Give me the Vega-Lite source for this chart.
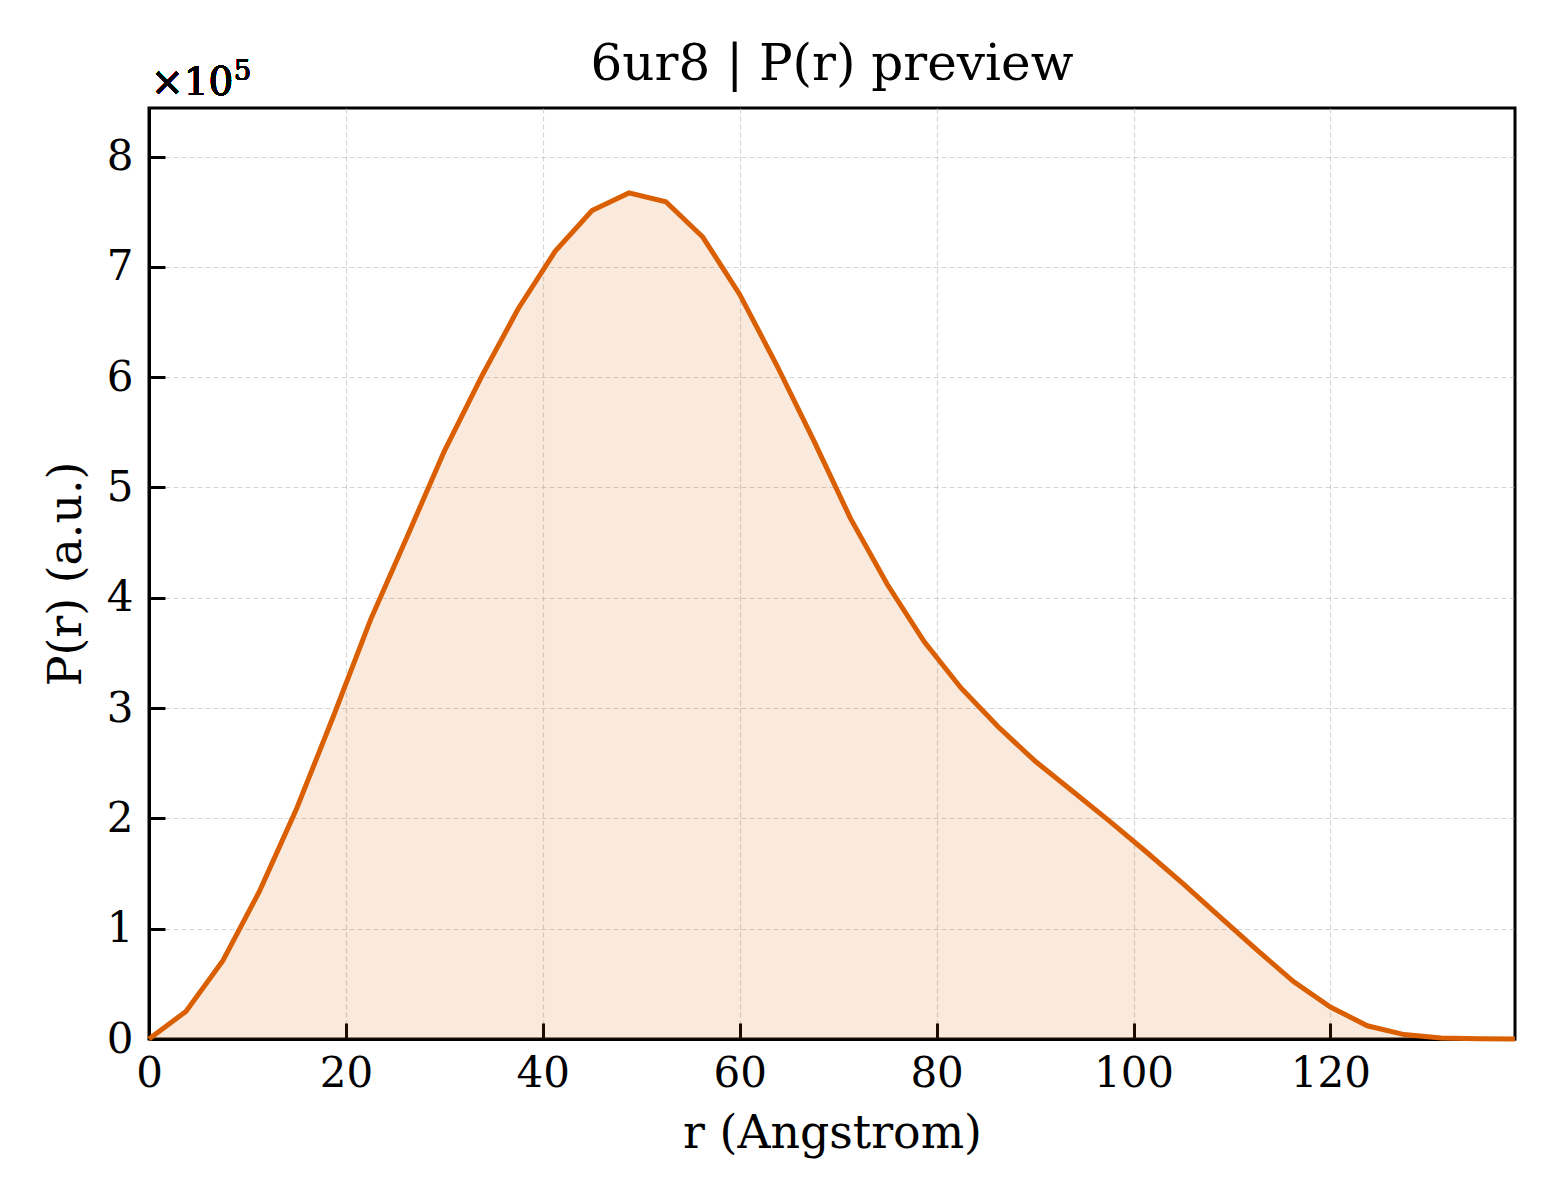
{
  "$schema": "https://vega.github.io/schema/vega-lite/v6.json",
  "autosize": {"type": "none"},
  "width": 1366,
  "height": 931,
  "padding": {"left": 149, "top": 108, "right": 45, "bottom": 161},
  "background": "white",
  "config": {
    "font": "DejaVu Serif",
    "view": {"stroke": "black", "strokeWidth": 3},
    "axis": {
      "labelFont": "DejaVu Serif",
      "labelFontSize": 42,
      "labelColor": "black",
      "titleFont": "DejaVu Serif",
      "titleFontSize": 45.8,
      "titleFontWeight": "normal",
      "titleColor": "black",
      "domainColor": "black",
      "domainWidth": 3,
      "tickColor": "black",
      "tickWidth": 3,
      "tickSize": -16,
      "gridColor": "#bbbbbb",
      "gridOpacity": 0.6,
      "gridWidth": 1.2,
      "gridDash": [5, 3]
    },
    "title": {"font": "DejaVu Serif", "fontSize": 50, "fontWeight": "normal", "color": "black"}
  },
  "title": {"text": "6ur8 | P(r) preview", "anchor": "middle", "frame": "group", "offset": -32},
  "data": {
    "values": [
      {"r": 0, "P": 0},
      {"r": 3.75, "P": 25000},
      {"r": 7.5, "P": 71000},
      {"r": 11.25, "P": 134500},
      {"r": 15, "P": 209000},
      {"r": 18.75, "P": 293000},
      {"r": 22.5, "P": 380000},
      {"r": 26.25, "P": 456000},
      {"r": 30, "P": 533000},
      {"r": 33.75, "P": 600000},
      {"r": 37.5, "P": 662000},
      {"r": 41.25, "P": 714000},
      {"r": 45, "P": 751000},
      {"r": 48.75, "P": 767000},
      {"r": 52.5, "P": 759000},
      {"r": 56.25, "P": 727000},
      {"r": 60, "P": 675000},
      {"r": 63.75, "P": 611000},
      {"r": 67.5, "P": 543000},
      {"r": 71.25, "P": 472000},
      {"r": 75, "P": 412000},
      {"r": 78.75, "P": 360000},
      {"r": 82.5, "P": 318000},
      {"r": 86.25, "P": 283000},
      {"r": 90, "P": 252000},
      {"r": 93.75, "P": 225000},
      {"r": 97.5, "P": 198000},
      {"r": 101.25, "P": 170000},
      {"r": 105, "P": 141000},
      {"r": 108.75, "P": 111000},
      {"r": 112.5, "P": 81000},
      {"r": 116.25, "P": 52000},
      {"r": 120, "P": 29000},
      {"r": 123.75, "P": 12000},
      {"r": 127.5, "P": 4000},
      {"r": 131.25, "P": 1000},
      {"r": 135, "P": 300},
      {"r": 138.75, "P": 0}
    ]
  },
  "encoding": {
    "x": {
      "field": "r",
      "type": "quantitative",
      "scale": {"domain": [0, 138.75], "nice": false, "zero": false},
      "axis": {
        "title": "r (Angstrom)",
        "values": [0, 20, 40, 60, 80, 100, 120],
        "labelPadding": 30,
        "titlePadding": 17,
        "labelFlush": false
      }
    },
    "y": {
      "field": "P",
      "type": "quantitative",
      "scale": {"domain": [0, 844000], "nice": false},
      "axis": {
        "title": "P(r) (a.u.)",
        "values": [0, 100000, 200000, 300000, 400000, 500000, 600000, 700000, 800000],
        "labelExpr": "format(datum.value / 100000, 'd')",
        "labelPadding": 32,
        "titlePadding": 16,
        "labelFlush": false
      }
    }
  },
  "layer": [
    {"mark": {"type": "area", "color": "#d95f02", "fillOpacity": 0.13}},
    {"mark": {"type": "line", "color": "#d95f02", "strokeWidth": 5}},
    {
      "mark": {"type": "text", "text": "×10", "align": "left", "baseline": "alphabetic", "fontSize": 39, "font": "DejaVu Serif", "color": "black", "dy": -13, "dx": 2},
      "encoding": {
        "x": {"datum": 0},
        "y": {"datum": 844000}
      }
    },
    {
      "mark": {"type": "text", "text": "5", "align": "left", "baseline": "alphabetic", "fontSize": 27, "font": "DejaVu Serif", "color": "black", "dy": -28, "dx": 85},
      "encoding": {
        "x": {"datum": 0},
        "y": {"datum": 844000}
      }
    }
  ]
}
